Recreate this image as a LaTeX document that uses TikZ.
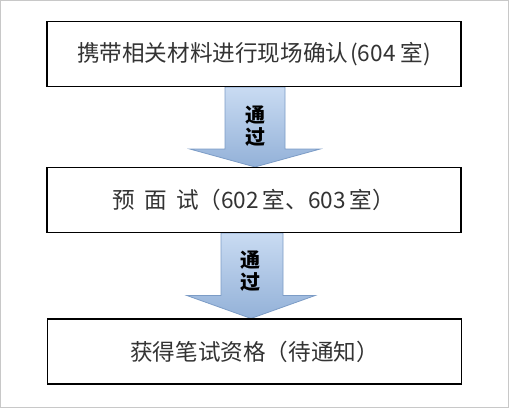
\documentclass[tikz,border=0pt]{standalone}
\usepackage{fontspec}
\newfontfamily\cjk{Noto Sans CJK SC}
\usetikzlibrary{calc,backgrounds}
\definecolor{textc}{HTML}{333333}
\definecolor{arrowline}{HTML}{7C9CC6}
\definecolor{arrowtop}{HTML}{C9DBF2}
\definecolor{arrowbot}{HTML}{93B1D8}
\definecolor{framec}{HTML}{C8C8C8}
\begin{document}
\begin{tikzpicture}[x=1pt,y=1pt,
  box/.style={draw=black,line width=1.1pt,fill=white,minimum width=414pt,minimum height=65pt,
    inner sep=0pt,font=\cjk\fontsize{22.6}{26}\selectfont,text=textc},
  flow/.style={draw=arrowline,line width=0.8pt,top color=arrowtop,bottom color=arrowbot},
  passlbl/.style={font=\cjk\bfseries\fontsize{20}{22}\selectfont,align=center,text=black,inner sep=0pt},
  outer/.style={draw=framec,line width=1pt}]
\useasboundingbox (0,0) rectangle (511,-410);
\node[box] (b1) at (254,-54) {携带相关材料进行现场确认\hspace{2pt}(604\hspace{5pt}室)};
\node[box] (b2) at (254,-200) {预\hspace{9pt}面\hspace{9pt}试（602\hspace{4pt}室、603\hspace{4pt}室）};
\node[box] (b3) at (254.5,-351.5) {获得笔试资格（待通知）};
\begin{scope}[on background layer]
  \draw[outer] (0.5,-0.5) rectangle (508.5,-407.5);
  \path[flow] ($(b1.south)+(-29,0)$) -- ++(0,-62) -- ++(-35,0) -- ($(b2.north)+(1,0)$)
     -- ($(b1.south)+(66,-62)$) -- ++(-35,0) -- ($(b1.south)+(31,0)$) -- cycle;
  \path[flow] ($(b2.south)+(-33,0)$) -- ++(0,-62.5) -- ++(-34,0) -- ($(b3.north)+(-3.5,0)$)
     -- ($(b2.south)+(61,-62.5)$) -- ++(-32,0) -- ($(b2.south)+(29,0)$) -- cycle;
\end{scope}
\node[passlbl] (p1) at ($(b1.south)+(1,-39)$) {通\\过};
\node[passlbl] (p2) at ($(b2.south)+(-4,-38)$) {通\\过};
\end{tikzpicture}
\end{document}
